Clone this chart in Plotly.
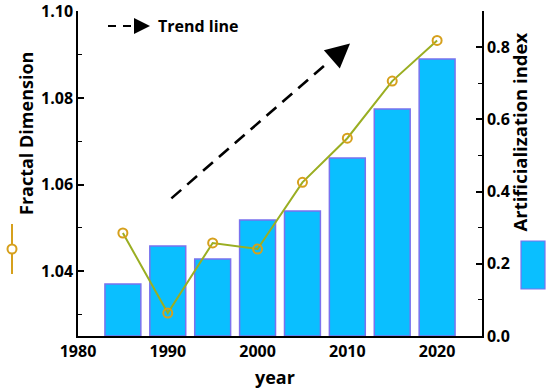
import plotly.graph_objects as go

years = [1985, 1990, 1995, 2000, 2005, 2010, 2015, 2020]
fractal_dimension = [1.0488, 1.0303, 1.0465, 1.0451, 1.0605, 1.0707, 1.0839, 1.0933]
artificialization = [0.144, 0.249, 0.213, 0.321, 0.346, 0.493, 0.629, 0.767]
x_ticks = [1980, 1990, 2000, 2010, 2020]
left_ticks = [1.04, 1.06, 1.08, 1.10]
right_ticks = [0.0, 0.2, 0.4, 0.6, 0.8]

BAR = "#0abfff"
BAR_EDGE = "#7a72ee"
LINE = "#9aae22"
MARK = "#d6a01c"
FONT = "Open Sans"

W, H = 550, 392
# plot area in pixels
L, R, T, B = 78, 482, 11, 336
def px(x):
    return (x - L) / (R - L)
def py(y):
    return (B - y) / (B - T)

fig = go.Figure()
fig.add_trace(go.Bar(
    x=years, y=artificialization, width=4, yaxis="y",
    marker=dict(color=BAR, line=dict(color=BAR_EDGE, width=1.5)),
    showlegend=False))
fig.add_trace(go.Scatter(
    x=years, y=fractal_dimension, yaxis="y2", mode="lines+markers",
    line=dict(color=LINE, width=2),
    marker=dict(symbol="circle-open", size=9, color=MARK, line=dict(color=MARK, width=2)),
    showlegend=False))

axis_font = dict(family=FONT, size=16, color="black", weight="bold")

fig.update_layout(
    width=W, height=H,
    margin=dict(l=L, r=W - R, t=T, b=H - B, autoexpand=False),
    plot_bgcolor="white", paper_bgcolor="white",
    font=dict(family=FONT, color="black"),
    xaxis=dict(range=[1980, 2025], tickvals=x_ticks, ticks="", showgrid=False,
               showline=True, linecolor="black", linewidth=1.5, zeroline=False,
               tickfont=axis_font, automargin=False),
    yaxis=dict(side="right", range=[0, 0.9001], tickvals=right_ticks,
               ticktext=["0.0", "0.2", "0.4", "0.6", "0.8"],
               ticks="inside", ticklen=6, tickwidth=1.5, tickcolor="black",
               minor=dict(dtick=0.1, tick0=0.1, ticks="inside", ticklen=4, tickcolor="black", tickwidth=1.2),
               showgrid=False, showline=True, linecolor="black", linewidth=1.5,
               zeroline=False, tickfont=axis_font, automargin=False),
    yaxis2=dict(side="left", overlaying="y", range=[1.025, 1.1001], tickvals=left_ticks,
                ticktext=["1.04", "1.06", "1.08", "1.10"],
                ticks="inside", ticklen=6, tickwidth=1.5, tickcolor="black",
                minor=dict(dtick=0.01, tick0=1.03, ticks="inside", ticklen=4, tickcolor="black", tickwidth=1.2),
                showgrid=False, showline=True, linecolor="black", linewidth=1.5,
                zeroline=False, tickfont=axis_font, automargin=False),
)

# Trend arrow (dashed line + arrowhead)
fig.add_shape(type="line", xref="x", yref="y2", x0=1990.4, y0=1.0568, x1=2008.0, y1=1.0885,
              line=dict(color="black", width=2.6, dash="13px,8px"))
fig.add_annotation(xref="x", yref="y2", x=2010.3, y=1.0926, ax=-16, ay=14,
                   showarrow=True, arrowhead=2, arrowsize=2.2, arrowwidth=2.2,
                   arrowcolor="black", text="")

# Trend line legend
fig.add_shape(type="line", xref="paper", yref="paper", x0=px(108), y0=py(26), x1=px(134), y1=py(26),
              line=dict(color="black", width=2, dash="8px,7px"))
fig.add_annotation(xref="paper", yref="paper", x=px(150), y=py(26), ax=-16, ay=0,
                   showarrow=True, arrowhead=2, arrowsize=1.6, arrowwidth=2,
                   arrowcolor="black", text="")
fig.add_annotation(xref="paper", yref="paper", x=px(156), y=py(26), xanchor="left", yanchor="middle",
                   showarrow=False, text="Trend line",
                   font=dict(family=FONT, size=16, color="black", weight="bold"))

# Axis titles
fig.add_annotation(xref="paper", yref="paper", x=px(12), y=py(134), textangle=-90,
                   showarrow=False, text="Fractal Dimension",
                   font=dict(family=FONT, size=18, color="black", weight="bold"))
fig.add_annotation(xref="paper", yref="paper", x=px(533), y=py(132), textangle=-90,
                   showarrow=False, text="Artificialization index",
                   font=dict(family=FONT, size=18.5, color="black", weight="bold"))
fig.add_annotation(xref="paper", yref="paper", x=px(275), y=py(377), yanchor="middle",
                   showarrow=False, text="year",
                   font=dict(family=FONT, size=18, color="black", weight="bold"))

# Series legend symbols beside axis titles
fig.add_shape(type="line", xref="paper", yref="paper", x0=px(12), y0=py(224), x1=px(12), y1=py(274),
              line=dict(color=MARK, width=2))
fig.add_shape(type="circle", xref="paper", yref="paper", x0=px(7.5), y0=py(244.5), x1=px(16.5), y1=py(253.5),
              fillcolor="white", line=dict(color=MARK, width=2))
fig.add_shape(type="rect", xref="paper", yref="paper", x0=px(521), y0=py(241), x1=px(545), y1=py(289),
              fillcolor=BAR, line=dict(color=BAR_EDGE, width=1.2))

fig.write_html("out.html", config={"displayModeBar": False},
               post_script="document.body.style.margin='0';")
